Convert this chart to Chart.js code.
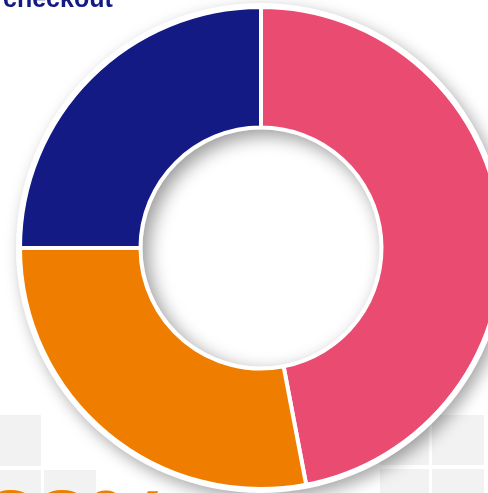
<!DOCTYPE html>
<html>
<head>
<meta charset="utf-8">
<script src="https://cdn.jsdelivr.net/npm/chart.js@4"></script>
<style>
  html, body { margin: 0; padding: 0; background: #fff; }
  body { width: 488px; height: 493px; overflow: hidden; position: relative; }
  .tile { position: absolute; background: #f2f2f2; }
  #chartWrap { position: absolute; left: 0; top: 0; width: 530px; height: 500px; }
  .title {
    position: absolute; left: 3px; top: -14px; margin: 0;
    font: bold 25px "Liberation Sans", Arial, sans-serif; line-height: 25px;
    color: #131a84; white-space: nowrap;
  }
  .big {
    position: absolute; left: -17px; top: 475px;
    font: bold 100px "Liberation Sans", Arial, sans-serif; line-height: 100px;
    color: #ef7d00; white-space: nowrap; letter-spacing: -4px;
  }
</style>
</head>
<body>
  <!-- decorative background grid -->
  <div class="tile" style="left:0;top:415px;width:41px;height:51px"></div>
  <div class="tile" style="left:0;top:470px;width:41px;height:30px"></div>
  <div class="tile" style="left:44px;top:470px;width:52px;height:30px"></div>
  <div class="tile" style="left:380px;top:415px;width:49px;height:50px"></div>
  <div class="tile" style="left:432px;top:415px;width:52px;height:50px"></div>
  <div class="tile" style="left:380px;top:469px;width:49px;height:30px"></div>
  <div class="tile" style="left:432px;top:469px;width:52px;height:30px"></div>

  <div id="chartWrap"><canvas id="donut" width="530" height="500"></canvas></div>

  <div class="title">checkout</div>
  <div class="big">28%</div>

<script>
// ===== 数据 =====
const labels = ['Pink', 'Orange', 'Navy'];
const values = [47, 28, 25];
const colors = ['#ea4c71', '#ef7d00', '#131a84'];

// 外圈投影 + 内孔内阴影
const donutShadow = {
  id: 'donutShadow',
  beforeDatasetsDraw(chart) {
    const arc = chart.getDatasetMeta(0).data[0];
    if (!arc) return;
    const { x, y, outerRadius } = arc.getProps(['x', 'y', 'outerRadius'], true);
    const ctx = chart.ctx;
    ctx.save();
    ctx.shadowColor = 'rgba(0,0,0,0.35)';
    ctx.shadowBlur = 16;
    ctx.shadowOffsetX = 5;
    ctx.shadowOffsetY = 6;
    ctx.fillStyle = '#fff';
    ctx.beginPath();
    ctx.arc(x, y, outerRadius + 4, 0, Math.PI * 2);
    ctx.fill();
    ctx.restore();
  },
  afterDatasetsDraw(chart) {
    const arc = chart.getDatasetMeta(0).data[0];
    if (!arc) return;
    const { x, y, innerRadius } = arc.getProps(['x', 'y', 'innerRadius'], true);
    const r = innerRadius - 2;
    const ctx = chart.ctx;
    ctx.save();
    ctx.beginPath();
    ctx.arc(x, y, r, 0, Math.PI * 2);
    ctx.clip();
    ctx.beginPath();
    ctx.arc(x, y, r + 80, 0, Math.PI * 2);
    ctx.arc(x, y, r, 0, Math.PI * 2, true);
    ctx.shadowColor = 'rgba(0,0,0,0.4)';
    ctx.shadowBlur = 18;
    ctx.shadowOffsetX = 6;
    ctx.shadowOffsetY = 6;
    ctx.fillStyle = '#fff';
    ctx.fill();
    ctx.restore();
  }
};

new Chart(document.getElementById('donut').getContext('2d'), {
  type: 'doughnut',
  data: {
    labels,
    datasets: [{
      data: values,
      backgroundColor: colors,
      borderColor: '#ffffff',
      borderWidth: 4,
      hoverOffset: 0
    }]
  },
  options: {
    responsive: false,
    devicePixelRatio: 1,
    animation: false,
    cutout: '50%',
    layout: { padding: { left: 18, top: 5, right: 26, bottom: 9 } },
    plugins: { legend: { display: false }, tooltip: { enabled: false } }
  },
  plugins: [donutShadow]
});
</script>
</body>
</html>
